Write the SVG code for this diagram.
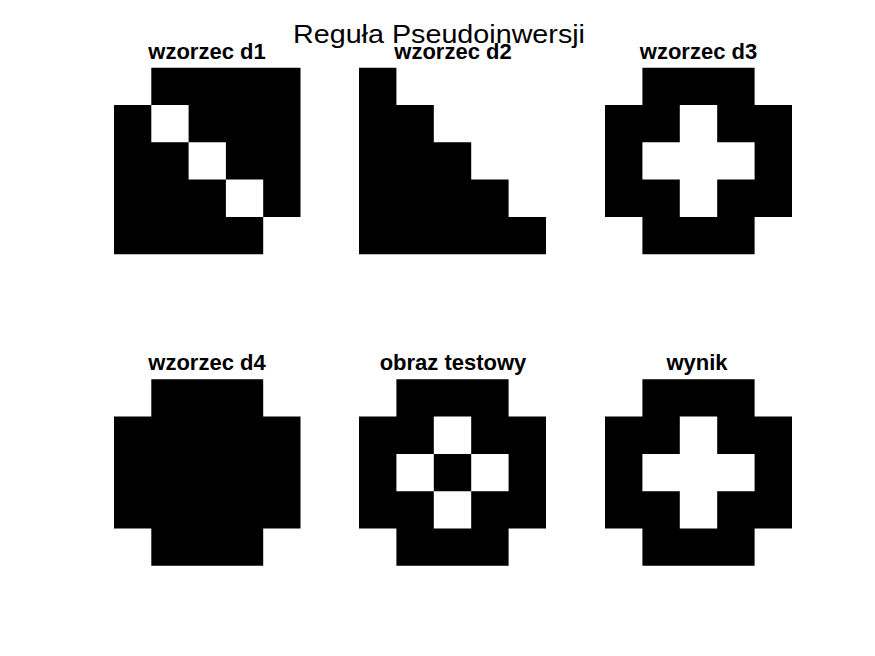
<svg xmlns="http://www.w3.org/2000/svg" width="875" height="656" viewBox="0 0 875 656">
  <style>
    .t { font-family: "Liberation Sans", Arial, sans-serif; font-size: 22px; font-weight: bold; fill: #000; text-anchor: middle; }
    .main { font-family: "Liberation Sans", Arial, sans-serif; font-size: 25px; fill: #000; text-anchor: middle; }
    .img { fill: #000; fill-rule: evenodd; }
  </style>
  <defs>
    <path id="ring" d="M1 0h3v1h1v3h-1v1h-3v-1h-1v-3h1z M2 1h1v1h1v1h-1v1h-1v-1h-1v-1h1z"/>
  </defs>
  <rect width="875" height="656" fill="#fff"/>

  <g id="d1">
    <text class="t" x="207" y="59">wzorzec d1</text>
    <path class="img" transform="translate(114 67.7) scale(37.3)" d="M1 0h4v1h-4z M0 1h1v1h-1z M2 1h3v1h-3z M0 2h2v1h-2z M3 2h2v1h-2z M0 3h3v1h-3z M4 3h1v1h-1z M0 4h4v1h-4z"/>
  </g>

  <g id="d2">
    <path class="img" transform="translate(359 67.7) scale(37.4 37.3)" d="M0 0h1v1h1v1h1v1h1v1h1v1h-5z"/>
    <text class="t" x="453" y="59">wzorzec d2</text>
  </g>

  <g id="d3">
    <text class="t" x="698.5" y="59">wzorzec d3</text>
    <use href="#ring" class="img" transform="translate(605 67.7) scale(37.4 37.3)"/>
  </g>

  <g id="d4">
    <text class="t" x="207" y="370">wzorzec d4</text>
    <path class="img" transform="translate(114 379.3) scale(37.3)" d="M1 0h3v1h1v3h-1v1h-3v-1h-1v-3h1z"/>
  </g>

  <g id="test">
    <text class="t" x="453" y="370">obraz testowy</text>
    <path class="img" transform="translate(359 379.3) scale(37.4 37.3)" d="M1 0h3v1h1v3h-1v1h-3v-1h-1v-3h1z M2 1h1v1h1v1h-1v1h-1v-1h-1v-1h1z M2 2h1v1h-1z"/>
  </g>

  <g id="wynik">
    <text class="t" x="697" y="370">wynik</text>
    <use href="#ring" class="img" transform="translate(605 379.3) scale(37.4 37.3)"/>
  </g>

  <g id="title">
    <text class="main" x="439" y="42.5" textLength="292" lengthAdjust="spacingAndGlyphs">Reguła Pseudoinwersji</text>
  </g>

  <g id="connectors"></g>
</svg>
